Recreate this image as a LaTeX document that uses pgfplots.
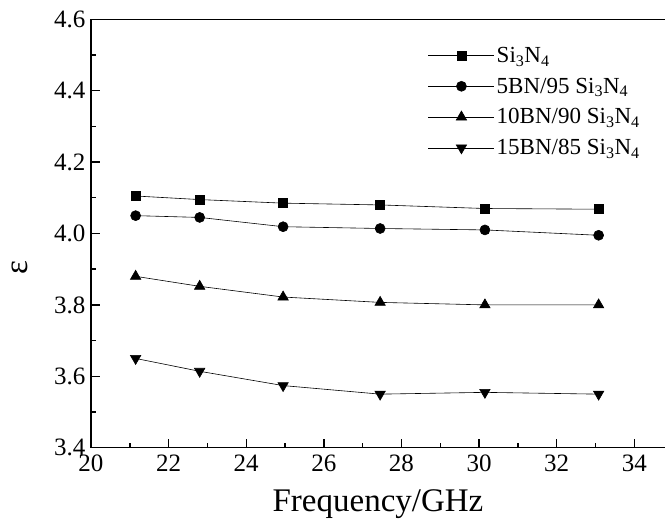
\documentclass[border=0pt]{standalone}
\usepackage{pgfplots}
\pgfplotsset{compat=1.18}
\usepackage{fontspec}
\setmainfont{Liberation Serif}
\newfontfamily\tnr{Liberation Serif}
\begin{document}
\begin{tikzpicture}
\useasboundingbox (-91pt,-73.3pt) rectangle (574pt,447.7pt);
\begin{axis}[
  scale only axis,
  width=574pt, height=428.4pt,
  xmin=20, xmax=34.79, ymin=3.4, ymax=4.6,
  axis x line*=bottom, axis y line*=left,
  axis line style={line width=1.6pt, -},
  xtick={20,22,24,26,28,30,32,34}, ytick={3.4,3.6,3.8,4.0,4.2,4.4,4.6},
  xticklabels={20,22,24,26,28,30,32,34},
  yticklabels={3.4,3.6,3.8,4.0,4.2,4.4,4.6},
  minor x tick num=1, minor y tick num=1,
  tick align=inside,
  major tick length=9pt, minor tick length=5pt,
  every tick/.style={line width=1.4pt, black},
  ticklabel style={font=\tnr\fontsize{25}{25}\selectfont},
  xticklabel style={yshift=-4pt},
  yticklabel style={xshift=-2pt},
  xlabel={Frequency/GHz},
  ylabel={ε},
  label style={font=\fontsize{33}{33}\selectfont},
  xlabel style={at={(axis description cs:0.5,0)}, anchor=base, yshift=-64pt},
  ylabel style={at={(axis description cs:-0.1237,0.42)}, anchor=center},
  legend style={draw=none, fill=none, at={(0.587,0.94)}, anchor=north west,
    font=\fontsize{23}{23}\selectfont, row sep=10pt, inner sep=0pt},
  legend cell align=left,
  legend image code/.code={
    \draw[#1, mark repeat=2, mark phase=2] plot coordinates {(0pt,0pt) (33pt,0pt) (66pt,0pt)};},
]
\addplot[black, line width=0.6pt, mark=square*, mark size=4.5pt, mark options={solid, fill=black}] coordinates {
(21.15,4.105) (22.8,4.095) (24.95,4.085) (27.45,4.080) (30.15,4.070) (33.08,4.068)};
\addlegendentry{Si\textsubscript{3}N\textsubscript{4}}
\addplot[black, line width=0.6pt, mark=*, mark size=5pt, mark options={solid, fill=black}] coordinates {
(21.15,4.050) (22.8,4.045) (24.95,4.019) (27.45,4.014) (30.15,4.010) (33.08,3.995)};
\addlegendentry{5BN/95 Si\textsubscript{3}N\textsubscript{4}}
\addplot[black, line width=0.6pt, mark=triangle*, mark size=6pt, mark options={solid, fill=black}] coordinates {
(21.15,3.880) (22.8,3.852) (24.95,3.822) (27.45,3.807) (30.15,3.800) (33.08,3.800)};
\addlegendentry{10BN/90 Si\textsubscript{3}N\textsubscript{4}}
\addplot[black, line width=0.6pt, mark=triangle*, mark size=6pt, mark options={solid, fill=black, rotate=180}] coordinates {
(21.15,3.650) (22.8,3.614) (24.95,3.574) (27.45,3.550) (30.15,3.555) (33.08,3.550)};
\addlegendentry{15BN/85 Si\textsubscript{3}N\textsubscript{4}}
\draw[line width=1.6pt] (rel axis cs:0,1) -- (rel axis cs:1,1);
\end{axis}
\end{tikzpicture}
\end{document}
